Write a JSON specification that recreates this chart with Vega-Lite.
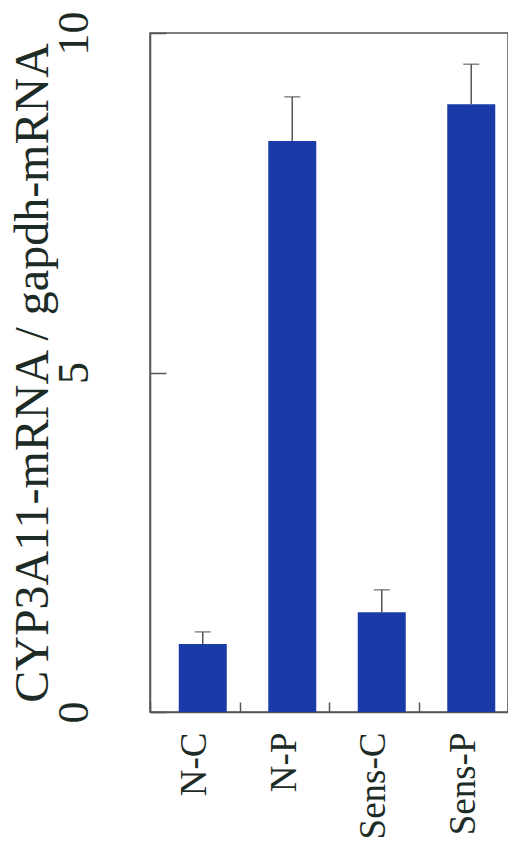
{
  "$schema": "https://vega.github.io/schema/vega-lite/v6.json",
  "width": 358,
  "height": 679,
  "autosize": "none",
  "padding": {"left": 150, "top": 33, "right": 0, "bottom": 132},
  "background": "white",
  "config": {
    "view": {"stroke": "#555555", "strokeWidth": 1.5},
    "font": "Times New Roman, Liberation Serif, serif"
  },
  "data": {
    "values": [
      {"group": "N-C", "mean": 1.0, "upper": 1.18},
      {"group": "N-P", "mean": 8.41, "upper": 9.06},
      {"group": "Sens-C", "mean": 1.47, "upper": 1.8},
      {"group": "Sens-P", "mean": 8.95, "upper": 9.54}
    ]
  },
  "encoding": {
    "x": {
      "field": "group",
      "type": "nominal",
      "sort": null,
      "scale": {"paddingInner": 0, "paddingOuter": 0},
      "axis": {
        "title": null,
        "labelAngle": -90,
        "labelAlign": "right",
        "labelBaseline": "middle",
        "labelFont": "Times New Roman, Liberation Serif, serif",
        "labelFontSize": 37,
        "labelColor": "#1d2b26",
        "labelPadding": 30,
        "tickSize": -10,
        "tickBand": "extent",
        "tickColor": "#555555",
        "tickWidth": 1.5,
        "domainColor": "#555555",
        "domainWidth": 1.5
      }
    }
  },
  "layer": [
    {
      "mark": {"type": "bar", "color": "#1a3aa8", "width": 48, "xOffset": 8},
      "encoding": {
        "y": {
          "field": "mean",
          "type": "quantitative",
          "scale": {"domain": [0, 10], "nice": false},
          "axis": {
            "title": "CYP3A11-mRNA / gapdh-mRNA",
            "values": [0, 5, 10],
            "format": "d",
            "grid": false,
            "labelAngle": -90,
            "labelAlign": "center",
            "labelBaseline": "alphabetic",
            "labelFlush": false,
            "labelOverlap": false,
            "labelBound": false,
            "labelFont": "Times New Roman, Liberation Serif, serif",
            "labelFontSize": 44,
            "labelColor": "#1d2b26",
            "labelPadding": 79,
            "tickSize": -16,
            "tickColor": "#555555",
            "tickWidth": 1.5,
            "domainColor": "#555555",
            "domainWidth": 1.5,
            "titleFont": "Times New Roman, Liberation Serif, serif",
            "titleFontSize": 48,
            "titleFontWeight": "normal",
            "titleColor": "#1d2b26",
            "titleAngle": -90,
            "titleAlign": "center",
            "titleBaseline": "alphabetic",
            "titleX": -103,
            "titleY": 339.5
          }
        }
      }
    },
    {
      "mark": {"type": "rule", "xOffset": 8, "color": "#555555", "strokeWidth": 1.5},
      "encoding": {
        "y": {"field": "mean", "type": "quantitative"},
        "y2": {"field": "upper"}
      }
    },
    {
      "mark": {"type": "tick", "xOffset": 8, "size": 16, "thickness": 1.5, "color": "#555555"},
      "encoding": {
        "y": {"field": "upper", "type": "quantitative"}
      }
    }
  ]
}
